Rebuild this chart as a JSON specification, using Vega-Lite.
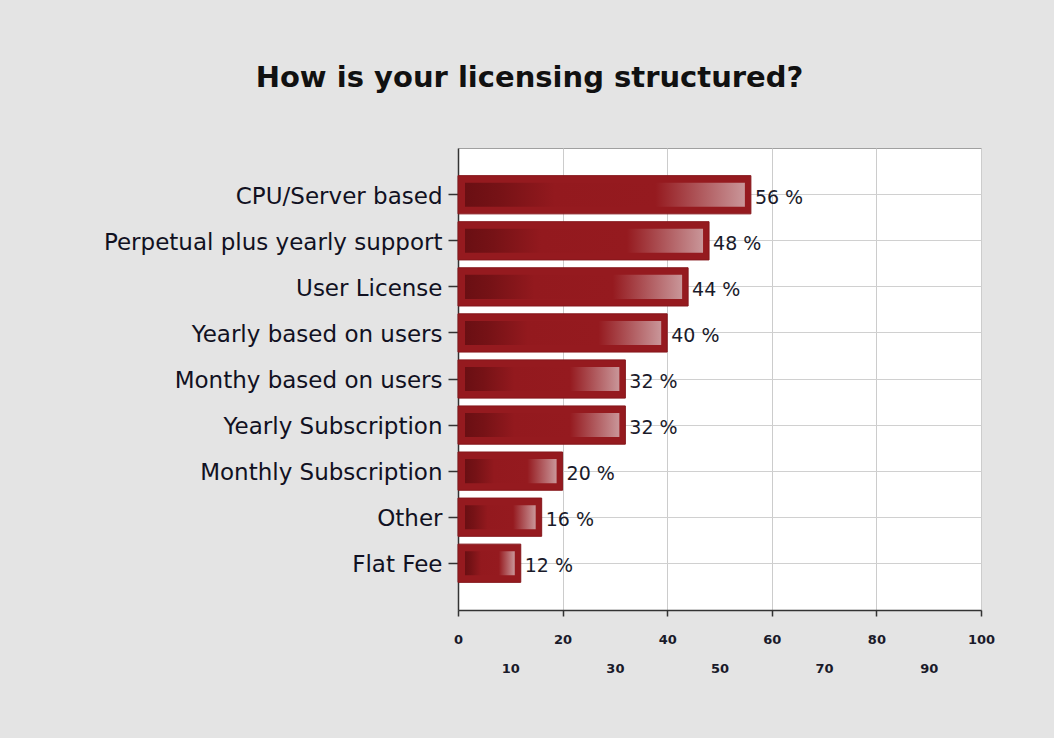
{
  "$schema": "https://vega.github.io/schema/vega-lite/v6.json",
  "width": 523,
  "height": 462,
  "autosize": {"type": "none"},
  "padding": {"left": 458, "top": 148, "right": 73, "bottom": 128},
  "background": "#e4e4e4",
  "title": {
    "text": "How is your licensing structured?",
    "fontSize": 29,
    "fontWeight": "bold",
    "font": "DejaVu Sans",
    "color": "#111111",
    "anchor": "middle",
    "dx": -190,
    "offset": 55
  },
  "config": {
    "view": {"fill": "#ffffff", "stroke": "#a0a0a0", "strokeWidth": 1}
  },
  "data": {
    "values": [
      {"category": "CPU/Server based", "value": 56},
      {"category": "Perpetual plus yearly support", "value": 48},
      {"category": "User License", "value": 44},
      {"category": "Yearly based on users", "value": 40},
      {"category": "Monthy based on users", "value": 32},
      {"category": "Yearly Subscription", "value": 32},
      {"category": "Monthly Subscription", "value": 20},
      {"category": "Other", "value": 16},
      {"category": "Flat Fee", "value": 12}
    ]
  },
  "transform": [{"calculate": "datum.value + ' %'", "as": "label"}],
  "encoding": {
    "y": {
      "field": "category",
      "type": "nominal",
      "sort": null,
      "scale": {"paddingInner": 0.17, "paddingOuter": 0.6},
      "axis": {
        "title": null,
        "domainColor": "#333333",
        "domainWidth": 1.5,
        "tickColor": "#333333",
        "tickWidth": 1.5,
        "tickSize": 10,
        "labelFont": "DejaVu Sans",
        "labelFontSize": 23,
        "labelColor": "#111122",
        "labelPadding": 6,
        "labelOffset": 2,
        "labelLimit": 500,
        "grid": true,
        "gridColor": "#d0d0d0",
        "bandPosition": 0.5
      }
    },
    "x": {
      "field": "value",
      "type": "quantitative",
      "stack": null,
      "scale": {"domain": [0, 100], "nice": false},
      "axis": {
        "title": null,
        "values": [0, 10, 20, 30, 40, 50, 60, 70, 80, 90, 100],
        "domainColor": "#333333",
        "domainWidth": 1.5,
        "tickColor": "#333333",
        "tickWidth": 1.5,
        "tickSize": 6,
        "tickOpacity": {"condition": {"test": "datum.value % 20 != 0", "value": 0}, "value": 1},
        "grid": true,
        "gridColor": "#cccccc",
        "gridOpacity": {"condition": {"test": "datum.value % 20 != 0", "value": 0}, "value": 1},
        "labelFont": "DejaVu Sans",
        "labelFontSize": 13,
        "labelFontWeight": "bold",
        "labelColor": "#1a1a2a",
        "labelBaseline": "top",
        "labelPadding": {"condition": {"test": "datum.value % 20 != 0", "value": 46}, "value": 17},
        "labelFlush": false,
        "labelOverlap": false
      }
    },
    "x2": {"datum": 0}
  },
  "layer": [
    {
      "mark": {"type": "bar", "color": "#951a1f", "stroke": "#85161b", "strokeWidth": 1}
    },
    {
      "mark": {
        "type": "bar",
        "height": {"band": 0.63},
        "xOffset": -6,
        "x2Offset": 7,
        "fill": {
          "x1": 0, "y1": 0, "x2": 1, "y2": 0,
          "gradient": "linear",
          "stops": [
            {"offset": 0, "color": "#6a0f13"},
            {"offset": 0.12, "color": "#761216"},
            {"offset": 0.32, "color": "#93191e"},
            {"offset": 0.68, "color": "#951a1f"},
            {"offset": 1, "color": "#c99699"}
          ]
        }
      }
    },
    {
      "mark": {"type": "text", "align": "left", "baseline": "middle", "dx": 4, "dy": 3, "font": "DejaVu Sans", "fontSize": 19, "color": "#1a1a2a"},
      "encoding": {"text": {"field": "label"}, "x2": null}
    }
  ]
}
